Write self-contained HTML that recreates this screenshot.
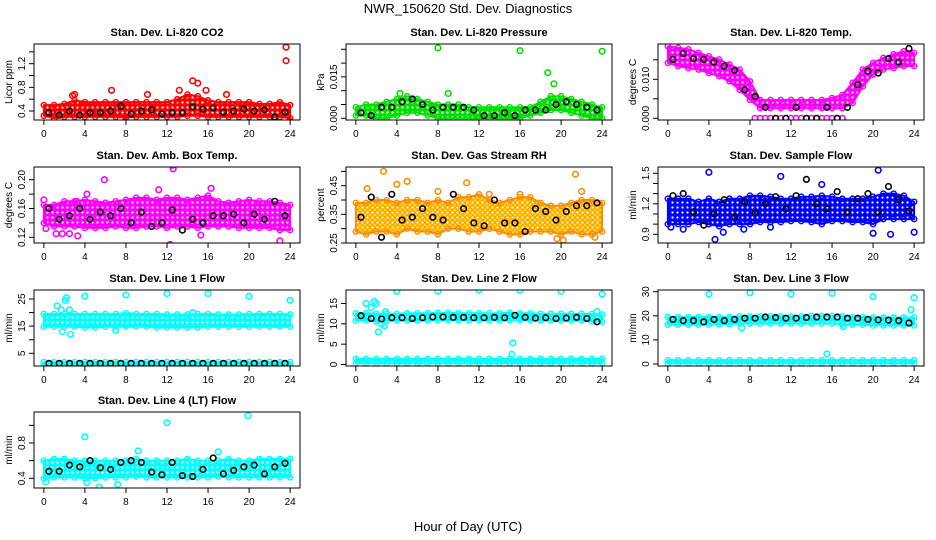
<!DOCTYPE html>
<html><head><meta charset="utf-8"><style>
body{margin:0;background:#fff}
svg{display:block;font-family:"Liberation Sans",sans-serif}
</style></head><body>
<svg id="chart" width="936" height="540" xmlns="http://www.w3.org/2000/svg">
<text x="468" y="13" text-anchor="middle" font-size="13">NWR_150620  Std. Dev. Diagnostics</text>
<text x="468" y="531" text-anchor="middle" font-size="13">Hour of Day (UTC)</text>
</svg>
<script>
// ---- shared x categories ----
const hours = [0,1,2,3,4,5,6,7,8,9,10,11,12,13,14,15,16,17,18,19,20,21,22,23,24];
const blackHours = [0.5,1.5,2.5,3.5,4.5,5.5,6.5,7.5,8.5,9.5,10.5,11.5,12.5,13.5,14.5,15.5,16.5,17.5,18.5,19.5,20.5,21.5,22.5,23.5];
const xTicks = [0,4,8,12,16,20,24];

// ---- CO2 ----
const co2Hi = [0.5,0.5,0.52,0.58,0.55,0.55,0.55,0.55,0.55,0.55,0.55,0.55,0.55,0.6,0.68,0.65,0.58,0.55,0.55,0.55,0.55,0.52,0.52,0.55,0.5];
const co2Lo = [0.32,0.28,0.3,0.3,0.3,0.3,0.3,0.3,0.29,0.3,0.3,0.3,0.3,0.3,0.32,0.32,0.3,0.3,0.3,0.3,0.3,0.3,0.3,0.3,0.28];
const co2OutX = [2.8,3,6.6,10.1,13.2,14.5,15,15.8,23.6,23.6,24,7.9,17.8];
const co2OutY = [0.66,0.68,0.75,0.68,0.75,0.91,0.87,0.75,1.48,1.25,0.22,0.22,0.68];
const co2Black = [0.37,0.33,0.4,0.33,0.37,0.37,0.4,0.48,0.35,0.4,0.42,0.35,0.37,0.37,0.47,0.43,0.45,0.38,0.4,0.43,0.4,0.42,0.3,0.38];
const co2Ticks = [0.4,0.6,0.8,1.0,1.2,1.4];
const co2Labels = [0.4,0.8,1.2];

// ---- Pressure ----
const prHi = [0.004,0.005,0.005,0.006,0.007,0.008,0.007,0.006,0.005,0.005,0.005,0.004,0.004,0.004,0.004,0.004,0.004,0.004,0.006,0.008,0.008,0.007,0.006,0.005,0.004];
const prLo = [0.001,0.001,0,0,0.001,0.002,0.002,0.001,0,0,0,0,0,0,0,0,0,0.001,0.002,0.003,0.003,0.002,0.001,0,0];
const prOutX = [8,16,24,18.7,19.3,4.3,9];
const prOutY = [0.0255,0.0245,0.0243,0.0165,0.0125,0.009,0.009];
const prBlack = [0.002,0.001,0.004,0.004,0.006,0.007,0.005,0.003,0.004,0.004,0.004,0.003,0.001,0.001,0.002,0.001,0.003,0.003,0.003,0.005,0.006,0.005,0.004,0.003];
const prTicks = [0,0.005,0.01,0.015,0.02,0.025];
const prLabels = [0,0.015];

// ---- Li-820 Temp ----
const tHi = [0.0185,0.0181,0.0177,0.0168,0.0159,0.0151,0.0138,0.0125,0.0095,0.0047,0.0047,0.0047,0.0047,0.0047,0.0047,0.0047,0.0052,0.006,0.0091,0.0125,0.0142,0.0155,0.0164,0.0172,0.0168];
const tLo = [0.0142,0.0134,0.0129,0.0125,0.0116,0.0108,0.0095,0.0073,0.0047,0.0026,0.0026,0.0026,0.0026,0.0026,0.0026,0.0026,0.0026,0.0026,0.0039,0.0082,0.0112,0.0125,0.0129,0.0134,0.0134];
const tOutX = [8.5,9,9.5,10,10.5,11,11.5,12,12.5,13,13.5,14,14.5,15,15.5,16,16.5,17];
const tOutY = [0,0,0,0,0,0,0,0,0,0,0,0,0,0,0,0,0,0];
const tBlack = [0.0151,0.0166,0.0153,0.0151,0.0144,0.0134,0.0123,0.0073,0.0056,0.0028,0,0,0.0028,0,0,0.0028,0,0.0028,0.0086,0.0121,0.0116,0.0153,0.0144,0.0179];
const tTicks = [0,0.005,0.01,0.015];
const tLabels = [0,0.01];

// ---- Amb Box Temp ----
const abHi = [0.165,0.165,0.17,0.17,0.172,0.17,0.168,0.17,0.172,0.175,0.175,0.172,0.175,0.175,0.172,0.175,0.178,0.17,0.168,0.17,0.172,0.17,0.17,0.168,0.165];
const abLo = [0.14,0.135,0.135,0.135,0.133,0.133,0.133,0.135,0.133,0.133,0.135,0.135,0.133,0.135,0.135,0.133,0.135,0.135,0.135,0.133,0.133,0.133,0.133,0.13,0.13];
const abOutX = [0,0.2,1.2,1.8,2.5,3.3,5.9,12.5,12.6,11.2,12.3,15.3,16.3,23,3.2,4.2];
const abOutY = [0.172,0.132,0.125,0.125,0.125,0.122,0.2,0.22,0.215,0.186,0.11,0.123,0.188,0.115,0.17,0.18];
const abBlack = [0.16,0.145,0.15,0.16,0.145,0.155,0.15,0.16,0.14,0.155,0.135,0.14,0.158,0.13,0.145,0.14,0.15,0.15,0.152,0.14,0.152,0.145,0.17,0.15];
const abTicks = [0.12,0.14,0.16,0.18,0.2];
const abLabels = [0.12,0.16,0.2];

// ---- Gas Stream RH ----
const rhHi = [0.39,0.39,0.4,0.4,0.39,0.4,0.4,0.39,0.4,0.39,0.41,0.41,0.42,0.4,0.39,0.4,0.41,0.41,0.39,0.38,0.38,0.39,0.4,0.4,0.39];
const rhLo = [0.29,0.28,0.29,0.29,0.28,0.3,0.29,0.29,0.28,0.3,0.3,0.29,0.29,0.3,0.29,0.28,0.28,0.29,0.29,0.29,0.28,0.29,0.28,0.28,0.29];
const rhOutX = [2.7,4,5,10.8,21.4,1.1,8,19.6,20.2,23.3,13,16,22];
const rhOutY = [0.5,0.455,0.465,0.46,0.49,0.44,0.43,0.265,0.26,0.27,0.42,0.42,0.43];
const rhBlack = [0.34,0.41,0.27,0.42,0.33,0.34,0.37,0.34,0.33,0.42,0.37,0.32,0.31,0.4,0.32,0.32,0.29,0.37,0.36,0.33,0.36,0.38,0.38,0.39];
const rhTicks = [0.25,0.3,0.35,0.4,0.45,0.5];
const rhLabels = [0.25,0.35,0.45];

// ---- Sample Flow ----
const sfHi = [1.25,1.25,1.25,1.22,1.25,1.22,1.25,1.25,1.28,1.28,1.27,1.25,1.25,1.27,1.27,1.28,1.27,1.25,1.25,1.25,1.27,1.3,1.3,1.28,1.22];
const sfLo = [1.0,1.0,1.0,1.02,1.0,0.98,1.0,1.0,1.0,1.02,1.02,1.02,1.03,1.03,1.02,1.0,1.03,1.03,1.02,1.02,1.0,1.05,1.05,1.05,1.05];
const sfOutX = [0.3,1.5,4,4.6,5.4,11,15,20,20.5,21.7,24,7.4,10];
const sfOutY = [0.97,0.95,1.51,0.85,0.92,1.47,1.39,0.91,1.53,0.9,0.92,0.95,0.97];
const sfBlack = [1.28,1.3,1.12,0.99,1.1,1.24,1.07,1.22,1.11,1.2,1.27,1.15,1.28,1.44,1.2,1.15,1.32,1.12,1.25,1.3,1.12,1.37,1.24,1.13];
const sfTicks = [0.9,1.0,1.1,1.2,1.3,1.4,1.5];
const sfLabels = [0.9,1.2,1.5];

// ---- Line 1 Flow ----
const l1Hi = [19.5,19.5,19.5,19.5,19.5,19.5,19.5,19.5,19.8,19.5,19.5,19.5,19.3,19.3,19.3,19.5,19.5,19.3,19.3,19.3,19.5,19.5,19.5,19.5,19.3];
const l1Lo = [14.8,14.8,14.8,14.8,14.5,14.5,14.8,14.8,14.8,14.8,14.8,14.5,14.5,14.5,14.5,14.5,14.8,14.8,14.8,14.8,14.8,14.8,14.8,14.8,14.8];
const l1Lo2 = [0.6,0.6,0.6,0.6,0.6,0.6,0.6,0.6,0.6,0.6,0.6,0.6,0.6,0.6,0.6,0.6,0.6,0.6,0.6,0.6,0.6,0.6,0.6,0.6,0.6];
const l1Hi2 = [1.8,1.8,1.8,1.8,1.8,1.8,1.8,1.8,1.8,1.8,1.8,1.8,1.8,1.8,1.8,1.8,1.8,1.8,1.8,1.8,1.8,1.8,1.8,1.8,1.8];
const l1OutX = [1.3,1.7,2.1,2.2,2.5,1.8,2.6,4,8,12,16,20,24,14.5,7];
const l1OutY = [22.5,21,24.5,25.5,21,13,12,26,26.5,27,27,26,24.5,20,13.5];
const l1Black = [1.3,1.3,1.3,1.3,1.3,1.3,1.3,1.3,1.3,1.3,1.3,1.3,1.3,1.3,1.3,1.3,1.3,1.3,1.3,1.3,1.3,1.3,1.3,1.3];
const l1Ticks = [5,10,15,20,25];
const l1Labels = [5,15,25];

// ---- Line 2 Flow ----
const l2Hi = [12.6,12.6,12.5,12.5,12.5,12.6,12.6,12.6,12.7,12.7,12.6,12.6,12.6,12.6,12.6,12.7,12.6,12.6,12.5,12.5,12.5,12.5,12.5,12.4,12.3];
const l2Lo = [10.8,10.8,10.6,10.8,10.8,10.8,10.8,10.9,10.9,10.9,10.9,10.9,10.9,10.9,10.9,10.9,10.9,10.9,10.8,10.8,10.8,10.8,10.8,10.6,10.5];
const l2Lo2 = [0.3,0.3,0.3,0.3,0.3,0.3,0.3,0.3,0.3,0.3,0.3,0.3,0.3,0.3,0.3,0.3,0.3,0.3,0.3,0.3,0.3,0.3,0.3,0.3,0.3];
const l2Hi2 = [1.4,1.4,1.4,1.4,1.4,1.4,1.4,1.4,1.4,1.4,1.4,1.4,1.4,1.4,1.4,1.4,1.4,1.4,1.4,1.4,1.4,1.4,1.4,1.4,1.4];
const l2OutX = [1,1.5,1.8,2,2.2,2.5,2.8,2.9,4,8,12,16,20,24,15.3,15.2,23.5];
const l2OutY = [15,14,15.5,15,8,10,9.5,13,18,18,18.3,18.3,18,17.3,5.3,2.5,13];
const l2Black = [12,11.3,11.2,11.5,11.5,11.3,11.5,11.7,11.7,11.6,11.6,11.5,11.5,11.6,11.5,12.1,11.6,11.4,11.5,11.3,11.4,11.6,11.3,10.5];
const l2Ticks = [0,5,10,15];
const l2Labels = [0,5,10,15];

// ---- Line 3 Flow ----
const l3Hi = [19.5,19.5,19.5,19.5,19.5,19.5,19.5,19.8,19.8,19.8,19.8,19.8,19.8,19.8,20,20,20,19.8,19.5,19.5,19.3,19.3,19.3,19.3,19.3];
const l3Lo = [16.3,16.3,16.3,16.3,16.3,16.5,16.5,16.8,16.8,16.8,16.8,16.8,16.8,16.8,16.8,16.8,16.8,16.5,16.3,16.3,16,16,16,16,16];
const l3Lo2 = [0.3,0.3,0.3,0.3,0.3,0.3,0.3,0.3,0.3,0.3,0.3,0.3,0.3,0.3,0.3,0.3,0.3,0.3,0.3,0.3,0.3,0.3,0.3,0.3,0.3];
const l3Hi2 = [1.6,1.6,1.6,1.6,1.6,1.6,1.6,1.6,1.6,1.6,1.6,1.6,1.6,1.6,1.6,1.6,1.6,1.6,1.6,1.6,1.6,1.6,1.6,1.6,1.6];
const l3OutX = [4,8,12,16,20,24,23.7,7.2,15.5,17.1];
const l3OutY = [29,29.5,29,29.3,28,27.5,22.5,15,4.2,15.5];
const l3Black = [18.5,18,18,17.5,18.5,18,18.5,19,19,19.5,19.3,19,19,19.3,19.5,19.5,19.5,19,19,18.5,18.3,18.2,18,17];
const l3Ticks = [0,10,20,30];
const l3Labels = [0,10,20,30];

// ---- Line 4 (LT) Flow ----
const l4Hi = [0.6,0.62,0.62,0.6,0.6,0.6,0.6,0.6,0.6,0.62,0.6,0.6,0.6,0.6,0.62,0.6,0.6,0.6,0.62,0.6,0.6,0.62,0.62,0.62,0.62];
const l4Lo = [0.4,0.41,0.41,0.41,0.4,0.4,0.41,0.41,0.41,0.42,0.41,0.41,0.41,0.41,0.41,0.41,0.41,0.42,0.41,0.41,0.41,0.41,0.41,0.41,0.41];
const l4OutX = [4,12,19.9,5.4,7.2,9.2,4.2,17,0.2];
const l4OutY = [0.87,1.03,1.11,0.3,0.33,0.71,0.35,0.7,0.36];
const l4Black = [0.48,0.48,0.55,0.53,0.6,0.52,0.5,0.58,0.6,0.58,0.47,0.44,0.58,0.43,0.42,0.5,0.63,0.45,0.49,0.53,0.55,0.45,0.53,0.57];
const l4Ticks = [0.4,0.6,0.8,1.0];
const l4Labels = [0.4,0.8];

const NS = "http://www.w3.org/2000/svg";
const svg = document.getElementById('chart');
function mk(tag, attrs, parent){
  const e = document.createElementNS(NS, tag);
  for (const k in attrs) e.setAttribute(k, attrs[k]);
  (parent||svg).appendChild(e);
  return e;
}
const colL = [34, 346, 658], W = 266, rowT = [44, 167, 290, 412], H = 76;
const defs = mk('defs', {});

const panels = [
 {name:'co2', title:'Stan. Dev. Li-820 CO2', ylab:'Licor ppm', col:0,row:0, color:'#ff0000', color2:'#ff0000', hi:co2Hi, lo:co2Lo, ox:co2OutX, oy:co2OutY, bk:co2Black, ticks:co2Ticks, labels:co2Labels, cal:[0.4,111,1.2,63.7], dec:1},
 {name:'pressure', title:'Stan. Dev. Li-820 Pressure', ylab:'kPa', col:1,row:0, color:'#00e000', color2:'#00e000', hi:prHi, lo:prLo, ox:prOutX, oy:prOutY, bk:prBlack, ticks:prTicks, labels:prLabels, cal:[0,118.3,0.015,76.9], dec:3},
 {name:'li820-temp', title:'Stan. Dev. Li-820 Temp.', ylab:'degrees C', col:2,row:0, color:'#ff00ff', color2:'#ff00ff', hi:tHi, lo:tLo, ox:tOutX, oy:tOutY, bk:tBlack, ticks:tTicks, labels:tLabels, cal:[0,118.3,0.01,79.3], dec:3},
 {name:'amb-box-temp', title:'Stan. Dev. Amb. Box Temp.', ylab:'degrees C', col:0,row:1, color:'#ff00ff', color2:'#ff00ff', hi:abHi, lo:abLo, ox:abOutX, oy:abOutY, bk:abBlack, ticks:abTicks, labels:abLabels, cal:[0.12,237.3,0.2,179.7], dec:2},
 {name:'gas-stream-rh', title:'Stan. Dev. Gas Stream RH', ylab:'percent', col:1,row:1, color:'#ff8c00', color2:'#ffe000', hi:rhHi, lo:rhLo, ox:rhOutX, oy:rhOutY, bk:rhBlack, ticks:rhTicks, labels:rhLabels, cal:[0.25,243,0.45,185.7], dec:2},
 {name:'sample-flow', title:'Stan. Dev. Sample Flow', ylab:'ml/min', col:2,row:1, color:'#0000ff', color2:'#0000ff', hi:sfHi, lo:sfLo, ox:sfOutX, oy:sfOutY, bk:sfBlack, ticks:sfTicks, labels:sfLabels, cal:[0.9,234.3,1.5,173.3], dec:1},
 {name:'line1-flow', title:'Stan. Dev. Line 1 Flow', ylab:'ml/min', col:0,row:2, color:'#00ffff', color2:'#00ffff', hi:l1Hi, lo:l1Lo, hi2:l1Hi2, lo2:l1Lo2, ox:l1OutX, oy:l1OutY, bk:l1Black, ticks:l1Ticks, labels:l1Labels, cal:[5,353.3,25,299], dec:0},
 {name:'line2-flow', title:'Stan. Dev. Line 2 Flow', ylab:'ml/min', col:1,row:2, color:'#00ffff', color2:'#00ffff', hi:l2Hi, lo:l2Lo, hi2:l2Hi2, lo2:l2Lo2, ox:l2OutX, oy:l2OutY, bk:l2Black, ticks:l2Ticks, labels:l2Labels, cal:[0,364.5,15,303.5], dec:0},
 {name:'line3-flow', title:'Stan. Dev. Line 3 Flow', ylab:'ml/min', col:2,row:2, color:'#00ffff', color2:'#00ffff', hi:l3Hi, lo:l3Lo, hi2:l3Hi2, lo2:l3Lo2, ox:l3OutX, oy:l3OutY, bk:l3Black, ticks:l3Ticks, labels:l3Labels, cal:[0,364,30,291.7], dec:0},
 {name:'line4-flow', title:'Stan. Dev. Line 4 (LT) Flow', ylab:'ml/min', col:0,row:3, color:'#00ffff', color2:'#00ffff', hi:l4Hi, lo:l4Lo, ox:l4OutX, oy:l4OutY, bk:l4Black, ticks:l4Ticks, labels:l4Labels, cal:[0.4,478.3,0.8,443], dec:1}
];

panels.forEach(p => {
  const L = colL[p.col], T = rowT[p.row];
  const g = mk('g', {});
  
  
  const xs = v => L + W*0.04/1.08 + v/24 * (W/1.08);
  const ys = v => p.cal[1] + (v - p.cal[0]) * (p.cal[3]-p.cal[1])/(p.cal[2]-p.cal[0]);
  const patId = 'pat-' + p.name;
  const pat = mk('pattern', {id: patId, width: 5, height: 5, patternUnits: 'userSpaceOnUse'}, defs);
  mk('rect', {width: 5, height: 5, fill: p.color2}, pat);
  mk('circle', {cx: 2.5, cy: 2.5, r: 1.1, fill: '#fff'}, pat);
  if (p.color2 !== p.color) mk('circle', {cx: 2.5, cy: 2.5, r: 1.8, fill: 'none', stroke: p.color, 'stroke-width': 1}, pat);
  const clipId = 'clip-' + p.name;
  const cp = mk('clipPath', {id: clipId}, g);
  mk('rect', {x:L, y:T, width:W, height:H}, cp);
  const plot = mk('g', {'clip-path':'url(#'+clipId+')'}, g);
  
  

  function band(hi, lo, nm){
    let d = '';
    hours.forEach((h,i)=>{ d += (i?'L':'M') + xs(h).toFixed(1) + ' ' + ys(hi[i]).toFixed(1); });
    for (let i = hours.length-1; i >= 0; i--) d += 'L' + xs(hours[i]).toFixed(1) + ' ' + ys(lo[i]).toFixed(1);
    const pa = mk('path', {d: d + 'Z', fill: 'url(#'+patId+')', stroke: p.color, 'stroke-width': 2, 'stroke-linejoin':'round'}, plot);
    
    
    hours.forEach((h,i)=>{
      [hi[i], lo[i]].forEach(v => {
        const c = mk('circle', {cx: xs(h), cy: ys(v), r: 2.6, fill: 'none', stroke: p.color, 'stroke-width': 1.4}, plot);
        
        
      });
    });
  }
  band(p.hi, p.lo, p.name + '-band');
  if (p.hi2) band(p.hi2, p.lo2, p.name + '-low-band');

  p.ox.forEach((x,i)=>{
    const c = mk('circle', {cx: xs(x), cy: ys(p.oy[i]), r: 2.8, fill: 'none', stroke: p.color, 'stroke-width': 1.6}, plot);
    
    
  });
  p.bk.forEach((v,i)=>{
    const c = mk('circle', {cx: xs(blackHours[i]), cy: ys(v), r: 2.8, fill: 'none', stroke: '#000', 'stroke-width': 1.6}, plot);
    
    
  });

  const box = mk('rect', {x:L, y:T, width:W, height:H, fill:'none', stroke:'#000', 'stroke-width':1}, g);
  
  

  const t = mk('text', {x: L+W/2, y: T-8, 'text-anchor':'middle', 'font-size': 11, 'font-weight':'bold'}, g);
  t.textContent = p.title;
  
  

  // x axis
  const xa = mk('g', {}, g);
  
  
  mk('line', {x1: xs(0), x2: xs(24), y1: T+H, y2: T+H, stroke:'#000'}, xa);
  xTicks.forEach(v=>{
    mk('line', {x1: xs(v), x2: xs(v), y1: T+H, y2: T+H+5, stroke:'#000'}, xa);
    const tl = mk('text', {x: xs(v), y: T+H+17, 'text-anchor':'middle', 'font-size': 10}, xa);
    tl.textContent = v;
    
    
  });

  // y axis
  const ya = mk('g', {}, g);
  
  
  p.ticks.forEach(v=>{
    if (ys(v) < T-1 || ys(v) > T+H+2) return;
    mk('line', {x1: L-5, x2: L, y1: ys(v), y2: ys(v), stroke:'#000'}, ya);
  });
  p.labels.forEach(v=>{
    const yy = ys(v);
    const tl = mk('text', {x: L-9, y: yy, 'text-anchor':'middle', 'font-size': 10, transform: 'rotate(-90 '+(L-9)+' '+yy+')'}, ya);
    tl.textContent = v.toFixed(p.dec);
    
    
  });
  const yl = mk('text', {x: L-22, y: T+H/2, 'text-anchor':'middle', 'font-size': 10, transform:'rotate(-90 '+(L-22)+' '+(T+H/2)+')'}, g);
  yl.textContent = p.ylab;
  
  
});
</script>
</body></html>
